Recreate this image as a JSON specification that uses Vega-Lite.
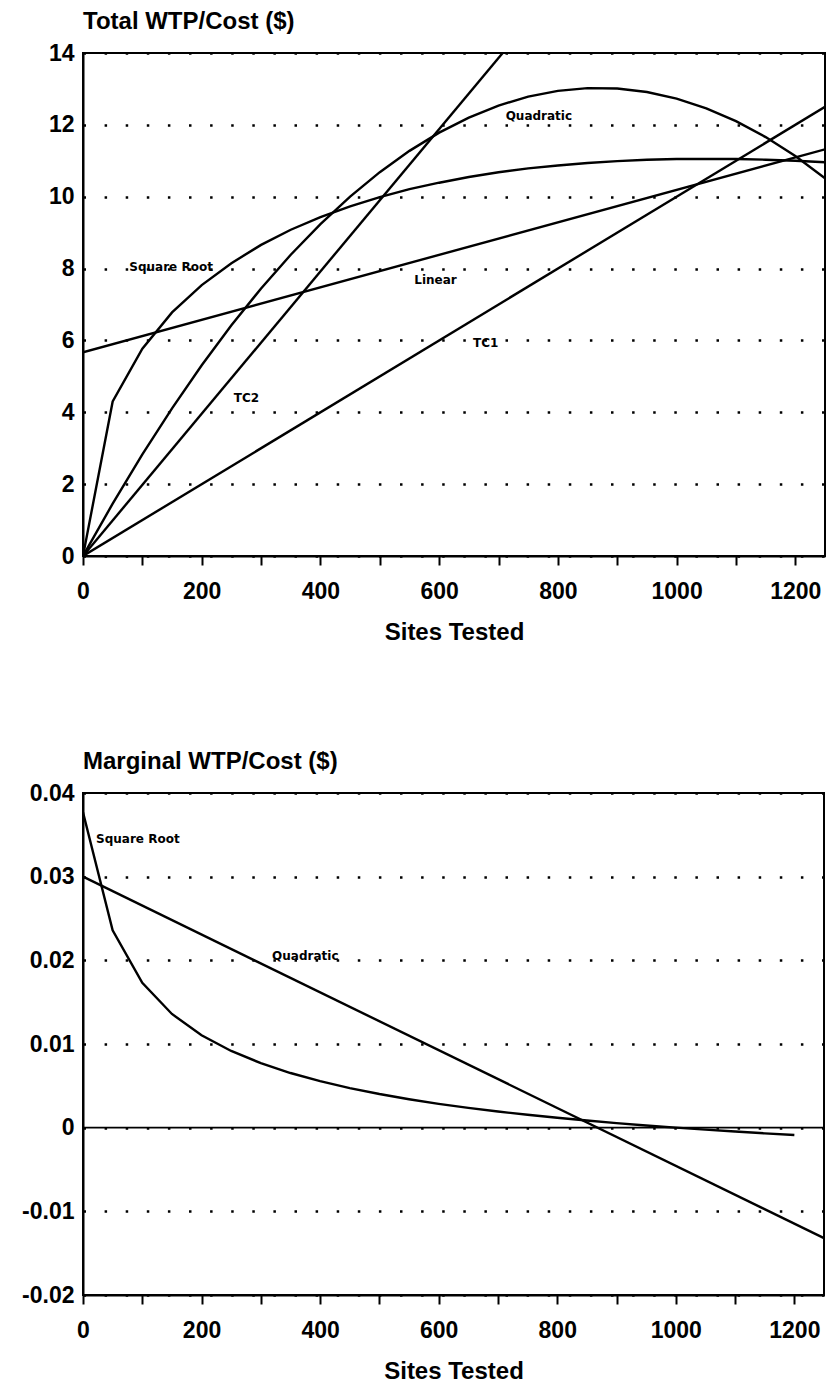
{
  "$schema": "https://vega.github.io/schema/vega-lite/v6.json",
  "padding": {"left": 5, "top": 9, "right": 2, "bottom": 2},
  "background": "white",
  "spacing": 104,
  "datasets": {
    "total": [
      {"series": "TC1", "sites": 0, "value": 0},
      {"series": "TC1", "sites": 1250, "value": 12.5},
      {"series": "TC2", "sites": 0, "value": 0},
      {"series": "TC2", "sites": 707, "value": 14},
      {"series": "Linear", "sites": 0, "value": 5.67},
      {"series": "Linear", "sites": 1250, "value": 11.32},
      {"series": "Quadratic", "sites": 0, "value": 0},
      {"series": "Quadratic", "sites": 50, "value": 1.457},
      {"series": "Quadratic", "sites": 100, "value": 2.827},
      {"series": "Quadratic", "sites": 150, "value": 4.111},
      {"series": "Quadratic", "sites": 200, "value": 5.309},
      {"series": "Quadratic", "sites": 250, "value": 6.421},
      {"series": "Quadratic", "sites": 300, "value": 7.446},
      {"series": "Quadratic", "sites": 350, "value": 8.384},
      {"series": "Quadratic", "sites": 400, "value": 9.237},
      {"series": "Quadratic", "sites": 450, "value": 10.003},
      {"series": "Quadratic", "sites": 500, "value": 10.683},
      {"series": "Quadratic", "sites": 550, "value": 11.276},
      {"series": "Quadratic", "sites": 600, "value": 11.783},
      {"series": "Quadratic", "sites": 650, "value": 12.203},
      {"series": "Quadratic", "sites": 700, "value": 12.538},
      {"series": "Quadratic", "sites": 750, "value": 12.786},
      {"series": "Quadratic", "sites": 800, "value": 12.947},
      {"series": "Quadratic", "sites": 850, "value": 13.022},
      {"series": "Quadratic", "sites": 900, "value": 13.011},
      {"series": "Quadratic", "sites": 950, "value": 12.914},
      {"series": "Quadratic", "sites": 1000, "value": 12.73},
      {"series": "Quadratic", "sites": 1050, "value": 12.46},
      {"series": "Quadratic", "sites": 1100, "value": 12.103},
      {"series": "Quadratic", "sites": 1150, "value": 11.66},
      {"series": "Quadratic", "sites": 1200, "value": 11.131},
      {"series": "Quadratic", "sites": 1250, "value": 10.516},
      {"series": "Square Root", "sites": 0, "value": 0},
      {"series": "Square Root", "sites": 50, "value": 4.3},
      {"series": "Square Root", "sites": 100, "value": 5.77},
      {"series": "Square Root", "sites": 150, "value": 6.78},
      {"series": "Square Root", "sites": 200, "value": 7.54},
      {"series": "Square Root", "sites": 250, "value": 8.15},
      {"series": "Square Root", "sites": 300, "value": 8.66},
      {"series": "Square Root", "sites": 350, "value": 9.08},
      {"series": "Square Root", "sites": 400, "value": 9.43},
      {"series": "Square Root", "sites": 450, "value": 9.73},
      {"series": "Square Root", "sites": 500, "value": 9.99},
      {"series": "Square Root", "sites": 550, "value": 10.21},
      {"series": "Square Root", "sites": 600, "value": 10.39},
      {"series": "Square Root", "sites": 650, "value": 10.55},
      {"series": "Square Root", "sites": 700, "value": 10.68},
      {"series": "Square Root", "sites": 750, "value": 10.79},
      {"series": "Square Root", "sites": 800, "value": 10.87},
      {"series": "Square Root", "sites": 850, "value": 10.94},
      {"series": "Square Root", "sites": 900, "value": 10.99},
      {"series": "Square Root", "sites": 950, "value": 11.03},
      {"series": "Square Root", "sites": 1000, "value": 11.05},
      {"series": "Square Root", "sites": 1050, "value": 11.05},
      {"series": "Square Root", "sites": 1100, "value": 11.05},
      {"series": "Square Root", "sites": 1150, "value": 11.03},
      {"series": "Square Root", "sites": 1200, "value": 11.0},
      {"series": "Square Root", "sites": 1250, "value": 10.96}
    ],
    "totalLabels": [
      {"label": "Square Root", "sites": 78, "value": 8.04},
      {"label": "Linear", "sites": 558, "value": 7.68},
      {"label": "Quadratic", "sites": 712, "value": 12.25},
      {"label": "TC2", "sites": 254, "value": 4.41},
      {"label": "TC1", "sites": 657, "value": 5.93}
    ],
    "marginal": [
      {"series": "Quadratic", "sites": 0, "value": 0.03},
      {"series": "Quadratic", "sites": 1250, "value": -0.0132},
      {"series": "Square Root", "sites": 0, "value": 0.0377},
      {"series": "Square Root", "sites": 50, "value": 0.02358},
      {"series": "Square Root", "sites": 100, "value": 0.01732},
      {"series": "Square Root", "sites": 150, "value": 0.01359},
      {"series": "Square Root", "sites": 200, "value": 0.01105},
      {"series": "Square Root", "sites": 250, "value": 0.00917},
      {"series": "Square Root", "sites": 300, "value": 0.00771},
      {"series": "Square Root", "sites": 350, "value": 0.00653},
      {"series": "Square Root", "sites": 400, "value": 0.00556},
      {"series": "Square Root", "sites": 450, "value": 0.00473},
      {"series": "Square Root", "sites": 500, "value": 0.00402},
      {"series": "Square Root", "sites": 550, "value": 0.0034},
      {"series": "Square Root", "sites": 600, "value": 0.00285},
      {"series": "Square Root", "sites": 650, "value": 0.00237},
      {"series": "Square Root", "sites": 700, "value": 0.00193},
      {"series": "Square Root", "sites": 750, "value": 0.00154},
      {"series": "Square Root", "sites": 800, "value": 0.00118},
      {"series": "Square Root", "sites": 850, "value": 0.00085},
      {"series": "Square Root", "sites": 900, "value": 0.00054},
      {"series": "Square Root", "sites": 950, "value": 0.00026},
      {"series": "Square Root", "sites": 1000, "value": 0.0},
      {"series": "Square Root", "sites": 1050, "value": -0.00024},
      {"series": "Square Root", "sites": 1100, "value": -0.00046},
      {"series": "Square Root", "sites": 1150, "value": -0.00068},
      {"series": "Square Root", "sites": 1200, "value": -0.00088}
    ],
    "marginalLabels": [
      {"label": "Square Root", "sites": 22, "value": 0.0345},
      {"label": "Quadratic", "sites": 319, "value": 0.0205}
    ]
  },
  "config": {
    "view": {"stroke": "black", "strokeWidth": 2},
    "axis": {
      "domainColor": "black", "domainWidth": 2,
      "tickColor": "black", "tickWidth": 2,
      "labelFont": "Liberation Sans", "labelFontSize": 23, "labelFontWeight": "bold", "labelColor": "black",
      "titleFont": "Liberation Sans", "titleFontSize": 24, "titleFontWeight": "bold", "titleColor": "black",
      "gridColor": "black", "gridWidth": 2.5, "gridDash": [2.5, 18.6], "gridOpacity": 1,
      "labelFlush": false, "labelOverlap": false
    },
    "title": {"font": "Liberation Sans", "fontSize": 24, "fontWeight": "bold", "color": "black", "anchor": "start", "frame": "group", "offset": 8}
  },
  "vconcat": [
    {
      "width": 742, "height": 503,
      "title": "Total WTP/Cost ($)",
      "layer": [
        {
          "data": {"name": "total"},
          "mark": {"type": "line", "color": "black", "strokeWidth": 2.4, "clip": true},
          "encoding": {
            "x": {"field": "sites", "type": "quantitative", "scale": {"domain": [0, 1250], "nice": false},
              "axis": {"title": "Sites Tested", "format": "d", "values": [0,50,100,150,200,250,300,350,400,450,500,550,600,650,700,750,800,850,900,950,1000,1050,1100,1150,1200,1250],
                "labelExpr": "datum.value % 200 === 0 ? datum.label : ''", "tickSize": 9, "labelPadding": 15, "titlePadding": 17, "grid": false}},
            "y": {"field": "value", "type": "quantitative", "scale": {"domain": [0, 14], "nice": false},
              "axis": {"title": null, "values": [0,2,4,6,8,10,12,14], "ticks": false, "grid": true, "labelPadding": 9, "minExtent": 77, "maxExtent": 77}},
            "detail": {"field": "series"}
          }
        },
        {
          "data": {"name": "totalLabels"},
          "mark": {"type": "text", "align": "left", "baseline": "middle", "font": "DejaVu Sans", "fontSize": 12, "fontWeight": "bold", "color": "black"},
          "encoding": {
            "x": {"field": "sites", "type": "quantitative"},
            "y": {"field": "value", "type": "quantitative"},
            "text": {"field": "label"}
          }
        }
      ]
    },
    {
      "width": 741, "height": 502,
      "title": "Marginal WTP/Cost ($)",
      "layer": [
        {
          "data": {"values": [{}]},
          "mark": {"type": "rule", "color": "black", "strokeWidth": 1.6},
          "encoding": {"y": {"datum": 0, "type": "quantitative"}}
        },
        {
          "data": {"name": "marginal"},
          "mark": {"type": "line", "color": "black", "strokeWidth": 2.4, "clip": true},
          "encoding": {
            "x": {"field": "sites", "type": "quantitative", "scale": {"domain": [0, 1250], "nice": false},
              "axis": {"title": "Sites Tested", "format": "d", "values": [0,50,100,150,200,250,300,350,400,450,500,550,600,650,700,750,800,850,900,950,1000,1050,1100,1150,1200,1250],
                "labelExpr": "datum.value % 200 === 0 ? datum.label : ''", "tickSize": 9, "labelPadding": 15, "titlePadding": 17, "grid": false}},
            "y": {"field": "value", "type": "quantitative", "scale": {"domain": [-0.02, 0.04], "nice": false},
              "axis": {"title": null, "values": [-0.02,-0.01,0,0.01,0.02,0.03,0.04], "ticks": false, "grid": true, "labelPadding": 9, "minExtent": 74, "maxExtent": 74,
                "labelExpr": "datum.value == 0 ? '0' : (datum.value < 0 ? '-' + format(-datum.value, '.2f') : format(datum.value, '.2f'))"}},
            "detail": {"field": "series"}
          }
        },
        {
          "data": {"name": "marginalLabels"},
          "mark": {"type": "text", "align": "left", "baseline": "middle", "font": "DejaVu Sans", "fontSize": 12, "fontWeight": "bold", "color": "black"},
          "encoding": {
            "x": {"field": "sites", "type": "quantitative"},
            "y": {"field": "value", "type": "quantitative"},
            "text": {"field": "label"}
          }
        }
      ]
    }
  ]
}
